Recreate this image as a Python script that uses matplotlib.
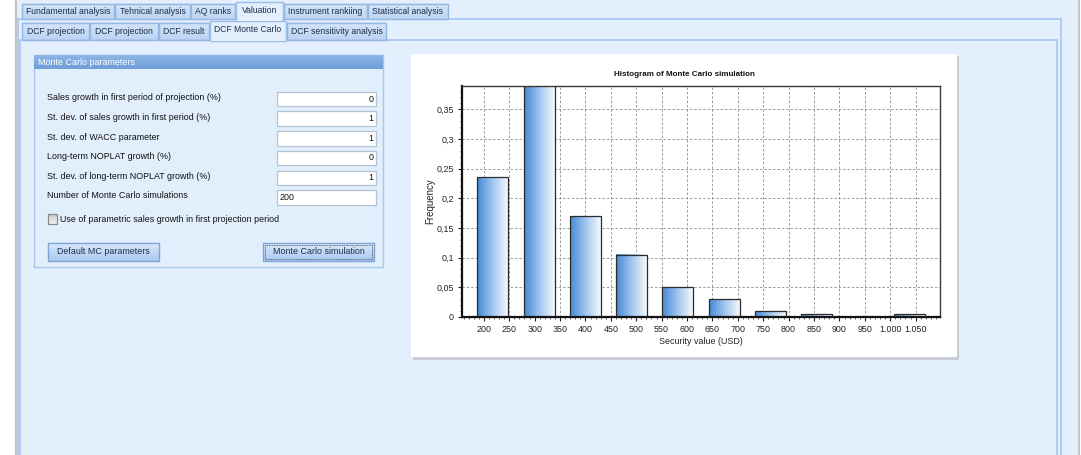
import numpy as np
import matplotlib
matplotlib.use("Agg")
import matplotlib.pyplot as plt
from matplotlib.patches import Rectangle
from matplotlib.colors import LinearSegmentedColormap
from matplotlib.ticker import MultipleLocator, FixedLocator

# ---------------- data ----------------
bin_centers = [218, 309, 400, 491, 582, 673, 764, 855, 946, 1037]
frequencies = [0.235, 0.39, 0.17, 0.105, 0.05, 0.03, 0.01, 0.005, 0.0, 0.005]
x_tick_values = [200, 250, 300, 350, 400, 450, 500, 550, 600, 650, 700, 750,
                 800, 850, 900, 950, 1000, 1050]
x_tick_labels = ["200", "250", "300", "350", "400", "450", "500", "550", "600",
                 "650", "700", "750", "800", "850", "900", "950", "1.000", "1.050"]
y_tick_values = [0, 0.05, 0.1, 0.15, 0.2, 0.25, 0.3, 0.35]
y_tick_labels = ["0", "0,05", "0,1", "0,15", "0,2", "0,25", "0,3", "0,35"]

main_tabs = ["Fundamental analysis", "Tehnical analysis", "AQ ranks", "Valuation",
             "Instrument rankiing", "Statistical analysis"]
sub_tabs = ["DCF projection", "DCF projection", "DCF result", "DCF Monte Carlo",
            "DCF sensitivity analysis"]
param_labels = ["Sales growth in first period of projection (%)",
                "St. dev. of sales growth in first period (%)",
                "St. dev. of WACC parameter",
                "Long-term NOPLAT growth (%)",
                "St. dev. of long-term NOPLAT growth (%)",
                "Number of Monte Carlo simulations"]
param_values = ["0", "1", "1", "0", "1", "200"]

# ---------------- layout ----------------
W, H = 1081, 455
UI_FONT = "Liberation Sans"
CH_FONT = "Liberation Sans"
plt.rcParams["font.family"] = [UI_FONT, "DejaVu Sans"]

fig = plt.figure(figsize=(W / 100, H / 100), dpi=100)
fig.patch.set_facecolor("#e3effd")
bg = fig.add_axes([0, 0, 1, 1])
bg.set_xlim(0, W)
bg.set_ylim(H, 0)
bg.axis("off")

BG = "#e3effd"
TXT = "#1b2f4e"
UFS = 6.4

def rect(x0, y0, x1, y1, fc="none", ec="none", lw=1.0, z=1, ls="-"):
    bg.add_patch(Rectangle((x0, y0), x1 - x0, y1 - y0, facecolor=fc,
                           edgecolor=ec, lw=lw, zorder=z, linestyle=ls))

def vgrad(x0, y0, x1, y1, c_top, c_bot, z=1):
    cm = LinearSegmentedColormap.from_list("v", [c_top, c_bot])
    g = np.linspace(0, 1, 64).reshape(-1, 1)
    bg.imshow(g, extent=[x0, x1, y1, y0], aspect="auto", cmap=cm, zorder=z,
              interpolation="bilinear")

# window background
rect(0, 0, W, H, fc=BG, z=0)
rect(0, 0, 15, H, fc="white", z=0.5)
bg.plot([15.5, 15.5], [0, H], color="#c4c4c4", lw=1.5, zorder=0.6)
bg.plot([1078.5, 1078.5], [0, H], color="#c4c4c4", lw=1.5, zorder=0.6)
rect(1079.5, 0, W, H, fc="white", z=0.5)

# tab page borders
rect(18, 19, 1061, H + 5, fc=BG, ec="#a8c6ee", lw=1.2, z=0.7)
rect(20, 40, 1057, H + 5, fc=BG, ec="#a8c6ee", lw=1.2, z=0.8)

# main tabs
main_x = [(22, 114), (115, 190), (191, 235), (236, 283), (284, 367), (368, 448)]
for i, (lab, (x0, x1)) in enumerate(zip(main_tabs, main_x)):
    if i == 3:
        rect(x0, 1.5, x1, 19.8, fc=BG, ec="#9dbde6", lw=1.0, z=2)
        rect(x0 + 0.6, 18.5, x1 - 0.6, 20.5, fc=BG, z=2.1)
        bg.text((x0 + x1) / 2, 10.5, lab, ha="center", va="center",
                fontsize=6.2, color=TXT, zorder=3)
    else:
        vgrad(x0, 3.5, x1, 19, "#d6e6f9", "#bcd5f3", z=1.5)
        rect(x0, 3.5, x1, 19, ec="#93b6e3", lw=1.0, z=1.6)
        bg.text((x0 + x1) / 2, 11.5, lab, ha="center", va="center",
                fontsize=6.2, color=TXT, zorder=3)

# sub tabs
sub_x = [(22, 89), (90, 158), (159, 209), (210, 286), (287, 386)]
for i, (lab, (x0, x1)) in enumerate(zip(sub_tabs, sub_x)):
    if i == 3:
        rect(x0, 21, x1, 40.5, fc=BG, ec="#9dbde6", lw=1.0, z=2)
        rect(x0 + 0.6, 39.2, x1 - 0.6, 41.5, fc=BG, z=2.1)
        bg.text((x0 + x1) / 2, 30, lab, ha="center", va="center",
                fontsize=6.2, color=TXT, zorder=3)
    else:
        vgrad(x0, 22.5, x1, 39.5, "#d6e6f9", "#bcd5f3", z=1.5)
        rect(x0, 22.5, x1, 39.5, ec="#93b6e3", lw=1.0, z=1.6)
        bg.text((x0 + x1) / 2, 31.5, lab, ha="center", va="center",
                fontsize=6.2, color=TXT, zorder=3)

# parameter group box
rect(34, 55, 383, 267, fc="#e1eefc", ec="#a9c6eb", lw=1.0, z=1)
vgrad(34, 55, 383, 69, "#8db5e6", "#6f9ed8", z=1.5)
bg.text(38, 62.3, "Monte Carlo parameters", ha="left", va="center",
        fontsize=UFS, color="white", zorder=3)

label_y = [97.5, 117, 137, 156.5, 176.5, 196]
for lab, val, yy in zip(param_labels, param_values, label_y):
    bg.text(47, yy, lab, ha="left", va="center", fontsize=UFS, color="#111111", zorder=3)
    rect(277, yy - 6, 376, yy + 8.5, fc="white", ec="#b4c3d3", lw=0.9, z=2)
    if val == "200":
        bg.text(279.5, yy + 1.5, val, ha="left", va="center", fontsize=UFS,
                color="#111111", zorder=3)
    else:
        bg.text(373.5, yy + 1.5, val, ha="right", va="center", fontsize=UFS,
                color="#111111", zorder=3)

# checkbox
vgrad(47.5, 214, 56.5, 224, "#c9c9c9", "#f2f2f2", z=2)
rect(47.5, 214, 56.5, 224, ec="#8a8a8a", lw=0.9, z=2.2)
bg.text(60, 219, "Use of parametric sales growth in first projection period",
        ha="left", va="center", fontsize=UFS, color="#111111", zorder=3)

# buttons
for (x0, x1), lab, focus in [((48, 159), "Default MC parameters", False),
                             ((263, 374), "Monte Carlo simulation", True)]:
    vgrad(x0, 243, x1, 261, "#dbe9fb", "#a8c9ef", z=2)
    rect(x0, 243, x1, 261, ec="#7ea4d5", lw=1.0, z=2.2)
    if focus:
        rect(x0 + 2, 245, x1 - 2, 259, ec="#404040", lw=0.6, ls=(0, (1, 1)), z=2.3)
    bg.text((x0 + x1) / 2, 251.5, lab, ha="center", va="center", fontsize=UFS,
            color=TXT, zorder=3)

# chart panel
rect(413, 56, 959, 359.5, fc="#c9ced6", z=1)
rect(411, 54, 957, 357, fc="white", z=1.2)

# ---------------- chart axes ----------------
def ax_rect(x0, y0, x1, y1):
    return [x0 / W, 1 - y1 / H, (x1 - x0) / W, (y1 - y0) / H]

ax = fig.add_axes(ax_rect(462, 86, 940, 317))
ax.set_facecolor("white")
XMIN, XMAX, YMAX = 157, 1098, 0.389
bar_w = 61

cmap = LinearSegmentedColormap.from_list("bar", ["#4389d6", "#9fc5ee", "#f6f9fd"])
grad = np.linspace(0, 1, 128).reshape(1, -1)
for c, f in zip(bin_centers, frequencies):
    x0, x1 = c - bar_w / 2, c + bar_w / 2
    if f > 0:
        ax.imshow(grad, extent=[x0, x1, 0, f], aspect="auto", cmap=cmap,
                  zorder=2, interpolation="bilinear")
    ax.add_patch(Rectangle((x0, 0), bar_w, f, fill=False, edgecolor="#2b2b2b",
                           lw=0.9, zorder=3, clip_on=True))

ax.set_xlim(XMIN, XMAX)
ax.set_ylim(0, YMAX)
ax.set_axisbelow(True)

ax.xaxis.set_major_locator(FixedLocator(x_tick_values))
ax.set_xticklabels(x_tick_labels)
ax.yaxis.set_major_locator(FixedLocator(y_tick_values))
ax.set_yticklabels(y_tick_labels)
ax.xaxis.set_minor_locator(MultipleLocator(10))
ax.yaxis.set_minor_locator(MultipleLocator(0.01))

ax.grid(True, which="major", color="#9a9a9a", lw=0.7, linestyle=(0, (2.5, 2)))
ax.tick_params(axis="both", which="major", labelsize=6.4, colors="#222222",
               length=3, width=0.8, direction="out", pad=3)
ax.tick_params(axis="both", which="minor", length=1.5, width=0.6,
               direction="out", colors="#444444")
for lab in ax.get_xticklabels() + ax.get_yticklabels():
    lab.set_fontfamily(CH_FONT)

for side in ("left", "bottom"):
    ax.spines[side].set_linewidth(1.6)
    ax.spines[side].set_color("#111111")
for side in ("top", "right"):
    ax.spines[side].set_linewidth(1.0)
    ax.spines[side].set_color("#3a3a3a")

ax.set_xlabel("Security value (USD)", fontsize=6.4, color="#222222",
              fontfamily=CH_FONT, labelpad=2)
ax.set_ylabel("Frequency", fontsize=7.0, color="#222222",
              fontfamily=CH_FONT, labelpad=0.5)
bg.text(684, 74, "Histogram of Monte Carlo simulation", ha="center", va="center",
        fontsize=5.8, fontweight="bold", color="#111111", fontfamily=CH_FONT, zorder=3)

fig.savefig("out.png", dpi=100, facecolor=fig.get_facecolor())
